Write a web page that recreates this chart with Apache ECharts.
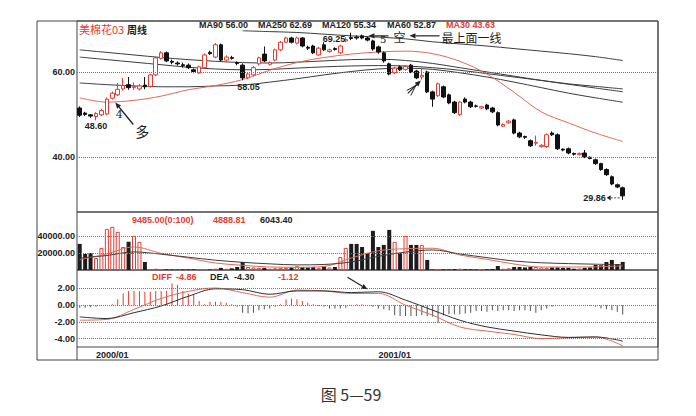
<!DOCTYPE html>
<html>
<head>
<meta charset="utf-8">
<script src="https://cdn.jsdelivr.net/npm/echarts/dist/echarts.min.js"></script>
<style>
html,body{margin:0;padding:0;background:#fff;}
#chart{width:696px;height:416px;}
</style>
</head>
<body>
<div id="chart"></div>
<script>
// ---------------- data ----------------
const slotCount = 107;                       // weekly slots on the x axis
const categories = Array.from({length: slotCount}, (_, i) => String(i));
const dateTicks = {6: '2000/01', 58: '2001/01'};
const priceTicks = [40, 60];
const volumeTicks = [20000, 40000];
const macdTicks = [2, 0, -2, -4];

// weekly candles: [open, close, low, high]
const candles = [
  [51.5,49.8,49.4,51.9],[50.3,50.0,49.6,50.6],[49.9,49.6,49.2,50.1],[49.5,50.2,48.6,50.5],[49.9,50.9,49.6,51.3],
  [50.1,53.6,49.8,54.0],[53.8,55.0,53.5,55.4],[54.6,55.9,54.3,57.4],[56.0,56.8,55.6,58.6],[57.0,56.3,55.8,58.8],
  [56.3,56.6,55.8,57.5],[56.0,56.7,55.6,57.2],[56.9,56.5,55.9,58.8],[56.6,59.3,56.3,59.6],[59.3,63.3,59.0,63.6],
  [63.2,64.5,62.9,64.9],[64.5,62.6,62.3,64.8],[62.5,62.3,61.8,62.9],[62.1,61.9,61.5,62.5],[61.7,61.5,61.0,62.2],
  [61.6,61.0,60.7,62.0],[60.5,60.1,59.7,60.8],[59.8,61.2,59.5,61.5],[61.0,64.0,60.8,64.4],[64.6,64.3,64.0,65.0],
  [63.5,66.4,63.2,66.8],[66.4,62.8,62.5,66.7],[62.8,63.5,62.5,63.9],[63.4,63.2,62.9,63.8],[62.2,62.0,61.6,62.5],
  [61.6,58.6,58.05,62.0],[58.6,59.5,58.3,59.8],[59.3,61.0,59.0,61.4],[61.9,63.3,61.5,63.6],[64.2,62.6,62.3,66.0],
  [61.8,62.2,61.5,62.5],[62.8,65.2,62.5,65.5],[65.2,67.0,64.9,67.3],[67.0,68.0,66.8,68.3],[68.0,67.0,66.7,68.3],
  [66.8,68.0,66.5,68.3],[68.0,66.1,65.8,68.2],[65.8,65.6,65.2,66.2],[66.1,64.5,64.2,66.4],[64.0,65.6,63.8,65.9],
  [66.4,65.2,64.9,67.0],[64.8,65.2,64.5,65.5],[65.5,65.3,65.0,65.8],[64.5,66.1,64.2,66.4],[67.3,67.6,67.0,68.2],
  [68.1,67.9,67.5,69.25],[68.2,68.0,67.6,68.6],[68.5,68.0,67.7,68.8],[68.0,67.5,67.2,68.3],[67.3,65.4,65.0,67.6],
  [65.9,64.7,64.3,66.2],[64.5,62.6,62.2,64.8],[61.9,59.5,59.2,62.2],[59.8,60.9,59.5,61.2],[61.2,60.5,60.2,61.5],
  [60.6,61.3,60.3,61.6],[61.6,60.0,59.7,61.9],[60.2,58.6,58.3,60.5],[58.8,59.2,58.2,61.0],[60.0,55.3,55.0,60.3],
  [55.3,53.6,51.8,55.6],[54.4,57.2,54.1,57.5],[56.5,54.1,53.8,56.8],[54.6,52.7,52.4,54.9],[52.9,50.4,50.1,53.2],
  [49.9,52.9,49.6,53.2],[53.6,52.9,52.6,54.0],[52.9,51.8,51.5,53.2],[52.0,51.9,51.6,52.3],[51.5,51.8,51.3,52.0],
  [52.2,51.3,51.0,52.5],[51.5,50.6,50.3,51.8],[50.4,47.5,47.2,50.7],[47.2,47.6,47.0,47.9],[48.0,48.4,47.8,48.7],
  [48.7,45.6,45.3,49.0],[45.6,44.7,44.4,45.9],[44.8,44.6,44.2,45.0],[43.8,42.6,42.3,44.1],[43.2,43.4,42.6,45.0],
  [42.4,42.7,42.2,43.0],[42.4,45.2,42.1,45.5],[45.6,45.2,44.9,46.0],[45.2,41.9,41.6,45.5],[41.8,41.6,41.3,42.0],
  [41.9,40.9,40.6,42.2],[40.8,40.6,40.3,41.0],[40.5,40.8,40.3,41.0],[40.9,40.0,39.7,41.6],[39.9,39.6,39.4,40.1],
  [39.3,38.4,38.1,39.6],[38.4,37.0,36.7,38.6],[37.0,35.8,35.5,37.3],[35.3,33.6,33.3,35.6],[33.4,32.9,32.6,33.7],
  [32.7,30.8,29.86,33.0]
];

// weekly volume
const volumes = [
  30600,18800,20000,14000,25900,48200,50600,44700,27000,33000,
  40000,33000,9400,1200,1500,1000,800,600,500,700,
  600,800,900,1200,700,1500,2500,1500,2000,3500,
  9400,3500,3000,2500,2500,1500,2000,2500,2500,3000,
  4500,3500,3000,3500,2500,4000,3000,3500,15300,25900,
  30600,30600,27000,20000,45900,27000,29400,47000,33000,20000,
  40000,29400,29400,29400,11800,600,500,800,700,1200,
  1500,900,800,600,700,900,1200,4700,1500,2000,
  3500,3500,3000,3500,3500,3000,2500,3000,3000,2500,
  2500,1500,1800,2500,3000,5900,5500,9400,11800,7000,
  9485
];

// MACD histogram, one bar per week
const macdBars = [
  -0.3,-0.3,-0.25,-0.2,-0.1,0,0.1,0.7,1.4,1.7,
  1.7,1.7,1.6,1.6,1.7,1.7,1.7,2.6,2.4,1.7,
  1.4,1.2,0.5,0.1,0.4,0.4,0.4,0.3,0.1,-0.2,
  -0.9,-1.0,-0.9,-0.6,-0.5,-0.4,-0.2,0.1,0.7,0.8,
  0.7,0.5,0.3,0.1,-0.1,-0.2,-0.4,-0.4,-0.4,-0.3,
  -0.1,0.1,0.1,0,-0.2,-0.4,-0.5,-0.6,-1.2,-1.3,
  -1.3,-1.3,-1.3,-1.2,-1.3,-1.4,-2.1,-1.2,-1.1,-1.1,
  -1.1,-1.0,-0.9,-0.7,-0.7,-0.8,-0.6,-0.7,-0.6,-0.6,
  -0.7,-0.6,-0.6,-0.7,-0.9,-0.6,-0.4,-0.2,-0.1,0,
  0,0,0,0,-0.1,-0.2,-0.4,-0.5,-0.6,-0.8,
  -1.12
];

// line readings taken every 5th week (week 0, 5, 10 ... 100)
const SAMPLE_STEP = 5;
const diffPts  = [-1.8,-1.7,-0.5,0.8,1.65,2.05,1.5,0.95,1.8,1.7,1.4,1.4,0.0,-1.2,-2.6,-3.1,-3.5,-4.0,-3.9,-3.8,-4.86];
const deaPts   = [-1.4,-1.6,-0.9,-0.1,1.06,1.95,1.85,1.3,1.7,1.7,1.5,1.6,0.6,-0.6,-1.8,-2.6,-3.1,-3.55,-3.85,-3.8,-4.30];
const ma30Pts  = [53.9,52.9,53.3,54.3,55.8,56.8,58.2,60.4,62.2,63.4,64.2,64.7,64.9,64.3,62.5,59.5,55.2,50.6,48.0,45.6,43.63];
const ma60Pts  = [57.4,57.0,56.7,56.5,56.5,56.7,56.9,57.6,58.4,59.3,60.1,60.7,60.9,60.6,59.8,58.8,57.6,56.3,55.0,53.9,52.87];
const ma90Pts  = [63.5,62.9,62.3,61.7,61.1,60.7,60.5,60.6,60.9,61.2,61.4,61.5,61.4,61.0,60.4,59.6,58.8,58.0,57.2,56.6,56.00];
const ma120Pts = [65.2,64.6,64.0,63.4,62.9,62.5,62.2,62.1,62.3,62.6,62.9,63.0,62.7,62.0,61.0,60.0,59.0,58.0,57.1,56.2,55.34];
const ma250Pts = [null,null,null,null,null,null,69.7,69.5,69.3,68.9,68.5,68.2,67.8,67.1,66.6,66.1,65.5,64.9,64.3,63.6,62.69];
const volMaShortPts = [12000,19000,27000,19500,14000,8200,5500,3500,3200,4200,14000,22500,25000,25500,17600,12500,7000,3500,3500,3700,4888.81];
const volMaLongPts  = [14000,17000,21200,18500,15000,11500,9000,7200,6000,6500,9500,16000,21000,23500,18800,14500,10500,8500,7500,6800,6043.40];

// ---------------- chart ----------------
const RED = '#e23c33';
const LINE_RED = '#e06a58';
const FONT = '"Liberation Sans", Arial, sans-serif';

function spread(pts) {
  const out = new Array(candles.length).fill(null);
  pts.forEach((v, k) => { out[k * SAMPLE_STEP] = v; });
  return out;
}
const isUp = i => candles[i][1] >= candles[i][0];

const chart = echarts.init(document.getElementById('chart'), null, {renderer: 'svg', width: 696, height: 416});

const gridBase = {left: 77, right: 38, show: true, borderColor: '#444', borderWidth: 1, backgroundColor: 'transparent'};
const grids = [
  Object.assign({top: 21, height: 191}, gridBase),
  Object.assign({top: 212, height: 58}, gridBase),
  Object.assign({top: 270, height: 77}, gridBase)
];

function xAxis(idx) {
  return {
    type: 'category', gridIndex: idx, data: categories, boundaryGap: true,
    axisLine: {show: false}, axisTick: {show: false}, splitLine: {show: false},
    axisLabel: idx === 2 ? {
      show: true, interval: 0, margin: 3, fontSize: 9, fontWeight: 'bold', color: '#222', fontFamily: FONT,
      formatter: (v, i) => dateTicks[i] || ''
    } : {show: false}
  };
}
function yAxis(idx, min, max, interval, ticks) {
  return {
    type: 'value', gridIndex: idx, min, max, interval, scale: false,
    axisLine: {show: false}, axisTick: {show: false}, splitLine: {show: false},
    axisLabel: {
      margin: 2, fontSize: 9, fontWeight: 'bold', color: '#222', fontFamily: FONT,
      formatter: v => ticks.includes(Math.round(v * 100) / 100) ? v.toFixed(2) : ''
    }
  };
}
function guideLines(ticks) {
  return {
    silent: true, symbol: ['none', 'none'], label: {show: false},
    lineStyle: {type: 'dotted', color: '#777', width: 1},
    emphasis: {disabled: true},
    data: ticks.map(v => ({yAxis: v}))
  };
}
function lineSeries(name, data, color, gi) {
  return {
    name, type: 'line', xAxisIndex: gi, yAxisIndex: gi, data, connectNulls: true,
    symbol: 'none', smooth: 0.35, silent: true,
    lineStyle: {color, width: 1}, z: 3
  };
}

chart.setOption({
  animation: false,
  backgroundColor: '#fff',
  grid: grids,
  xAxis: [xAxis(0), xAxis(1), xAxis(2)],
  yAxis: [
    yAxis(0, 27, 72, 1, priceTicks),
    yAxis(1, 0, 68000, 4000, volumeTicks),
    yAxis(2, -5, 4.2, 1, macdTicks)
  ],
  series: [
    {
      name: 'K', type: 'candlestick', xAxisIndex: 0, yAxisIndex: 0, data: candles,
      barWidth: 4, silent: true, z: 4,
      itemStyle: {color: '#ffffff', color0: '#111111', borderColor: RED, borderColor0: '#111111', borderWidth: 1},
      markLine: guideLines(priceTicks)
    },
    lineSeries('MA250', spread(ma250Pts), '#3c3c3c', 0),
    lineSeries('MA120', spread(ma120Pts), '#3c3c3c', 0),
    lineSeries('MA90', spread(ma90Pts), '#3c3c3c', 0),
    lineSeries('MA60', spread(ma60Pts), '#3c3c3c', 0),
    lineSeries('MA30', spread(ma30Pts), LINE_RED, 0),
    {
      name: 'VOL', type: 'bar', xAxisIndex: 1, yAxisIndex: 1, barWidth: 4, silent: true,
      data: volumes.map((v, i) => ({
        value: v,
        itemStyle: isUp(i) ? {color: '#ffffff', borderColor: RED, borderWidth: 1} : {color: '#1c1c1c'}
      })),
      markLine: guideLines(volumeTicks)
    },
    lineSeries('VMA1', spread(volMaShortPts), LINE_RED, 1),
    lineSeries('VMA2', spread(volMaLongPts), '#3c3c3c', 1),
    {
      name: 'MACD', type: 'bar', xAxisIndex: 2, yAxisIndex: 2, barWidth: 1, silent: true,
      data: macdBars.map(v => ({value: v, itemStyle: {color: v >= 0 ? RED : '#555'}})),
      markLine: guideLines(macdTicks)
    },
    lineSeries('DIFF', spread(diffPts), LINE_RED, 2),
    lineSeries('DEA', spread(deaPts), '#2e2e2e', 2)
  ]
});

// ---------------- annotations ----------------
const px = (g, i, v) => chart.convertToPixel({xAxisIndex: g, yAxisIndex: g}, [i, v]);

function txt(text, x, y, o) {
  o = o || {};
  const align = o.align || 'left';
  return {
    type: 'text', silent: true, z: 50,
    style: {
      text, x, y,
      fill: o.fill || '#1e1e1e',
      font: o.font || ('bold 9px ' + FONT),
      align, textAlign: align,
      verticalAlign: 'middle', textVerticalAlign: 'middle'
    }
  };
}
function arrow(tx, ty, fx, fy, o) {
  o = o || {};
  const color = o.color || '#222';
  const ang = Math.atan2(ty - fy, tx - fx);
  const L = o.head || 6, W = 2.6;
  const bx = tx - L * Math.cos(ang), by = ty - L * Math.sin(ang);
  const nx = -Math.sin(ang) * W, ny = Math.cos(ang) * W;
  return [
    {type: 'line', silent: true, z: 50, shape: {x1: fx, y1: fy, x2: bx, y2: by},
     style: {stroke: color, lineWidth: o.width || 1.2, lineDash: o.dash || null}},
    {type: 'polygon', silent: true, z: 50, shape: {points: [[tx, ty], [bx + nx, by + ny], [bx - nx, by - ny]]},
     style: {fill: color}}
  ];
}

const g = [];
// frame
g.push({type: 'rect', silent: true, z: 40, shape: {x: 37, y: 21, width: 621, height: 339},
        style: {fill: 'none', stroke: '#444', lineWidth: 1}});
g.push({type: 'line', silent: true, z: 40, shape: {x1: 77, y1: 347, x2: 77, y2: 360},
        style: {stroke: '#444', lineWidth: 1}});

// header texts
g.push(txt('美棉花03', 79, 29, {fill: RED, font: '11px "Noto Sans CJK SC", sans-serif'}));
g.push(txt('周线', 127, 29, {font: 'bold 10px "Noto Sans CJK SC", sans-serif'}));
g.push(txt('MA90 56.00', 199, 25));
g.push(txt('MA250 62.69', 258, 25));
g.push(txt('MA120 55.34', 322, 25));
g.push(txt('MA60 52.87', 387, 25));
g.push(txt('MA30 43.63', 446, 25, {fill: RED}));

// volume / macd header texts
g.push(txt('9485.00(0:100)', 132, 220, {fill: RED}));
g.push(txt('4888.81', 213, 220, {fill: RED}));
g.push(txt('6043.40', 260, 220));
g.push(txt('DIFF', 152, 277, {fill: RED}));
g.push(txt('-4.86', 176, 277, {fill: RED}));
g.push(txt('DEA', 210, 277));
g.push(txt('-4.30', 234, 277));
g.push(txt('-1.12', 278, 277, {fill: RED}));

// price annotations tied to the candles
let p = px(0, 3, 48.6);
g.push(txt('48.60', p[0], p[1] + 6, {align: 'center'}));
p = px(0, 5, 50.1);
g.push(txt('4', p[0] + 9, p[1] + 1, {font: '11px "DejaVu Serif", serif'}));
p = px(0, 30, 58.05);
g.push(txt('58.05', p[0] + 6, p[1] + 7, {align: 'center'}));
p = px(0, 50, 69.25);
g.push(txt('69.25', p[0] - 6, p[1] + 6, {align: 'right'}));
p = px(0, 54, 67.3);
g.push(txt('5', p[0] + 7, p[1] - 1, {font: '10px "DejaVu Serif", serif'}));
p = px(0, 100, 29.86);
g.push(txt('29.86', p[0] - 17, p[1] - 2, {align: 'right'}));
g.push(...arrow(p[0] - 16, p[1] - 2, p[0] - 3, p[1] - 2, {dash: [2, 1.5], width: 0.8, head: 4}));

// "多" arrow
p = px(0, 6, 52.8);
const tip1 = [p[0] + 3, p[1]];
g.push(...arrow(tip1[0], tip1[1], tip1[0] + 18, tip1[1] + 22, {width: 1.4}));
g.push(txt('多', tip1[0] + 27, tip1[1] + 29, {align: 'center', font: '14px "Noto Sans CJK SC", sans-serif'}));

// feathered arrow under the breakdown candle
p = px(0, 63, 58.0);
const tip2 = [p[0] - 1, p[1]];
g.push(...arrow(tip2[0], tip2[1], tip2[0] - 13, tip2[1] + 13, {width: 1.2}));
g.push({type: 'line', silent: true, z: 50, shape: {x1: tip2[0] - 3, y1: tip2[1] + 4, x2: tip2[0] - 14, y2: tip2[1] + 10}, style: {stroke: '#222', lineWidth: 1}});
g.push({type: 'line', silent: true, z: 50, shape: {x1: tip2[0] - 4, y1: tip2[1] + 3, x2: tip2[0] - 10, y2: tip2[1] + 15}, style: {stroke: '#222', lineWidth: 1}});

// "空 ← 最上面一线"
p = px(0, 53, 68.5);
const tip3 = [p[0] + 1, p[1]];
g.push(...arrow(tip3[0], tip3[1], tip3[0] + 20, tip3[1], {width: 1.2}));
g.push(txt('空', tip3[0] + 31, tip3[1] + 1, {align: 'center', font: '12px "Noto Sans CJK SC", sans-serif'}));
g.push(...arrow(tip3[0] + 41, tip3[1], tip3[0] + 71, tip3[1], {width: 1.2}));
g.push(txt('最上面一线', tip3[0] + 73, tip3[1] + 2, {font: '12px "Noto Sans CJK SC", sans-serif'}));

// MACD arrow
p = px(2, 53, 1.9);
g.push(...arrow(p[0], p[1], p[0] - 20, p[1] - 12, {width: 1.2}));

// caption
g.push(txt('图 5—59', 351, 394, {align: 'center', fill: '#333', font: '16px "Noto Sans CJK SC", sans-serif'}));

chart.setOption({graphic: {elements: g}});
</script>
</body>
</html>
